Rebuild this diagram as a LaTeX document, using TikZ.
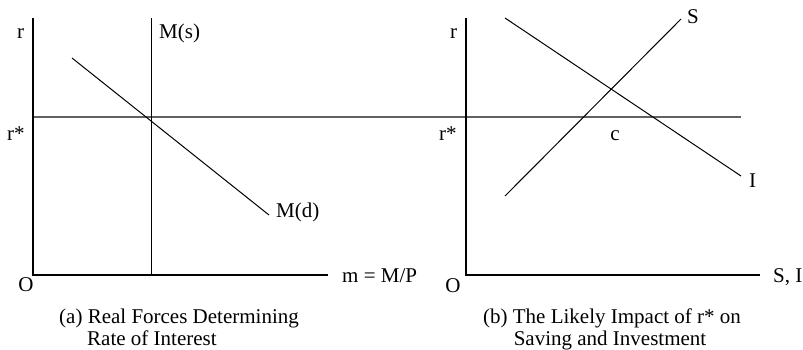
\documentclass[tikz,border=0pt]{standalone}
\usepackage{fontspec}
\setmainfont{Liberation Serif}
\begin{document}
\begin{tikzpicture}[x=1pt,y=-1pt,
  axis/.style={line width=1.1pt,black},
  curve/.style={line width=1pt,black},
  rline/.style={line width=1.6pt,color=black!62},
  lbl/.style={inner sep=0pt,font=\fontsize{21}{25}\selectfont,anchor=base west},
  lblc/.style={inner sep=0pt,font=\fontsize{21}{25}\selectfont,anchor=base}]
\useasboundingbox (0,0) rectangle (803,349);
% left panel coordinates
\coordinate (aTop) at (33,18);
\coordinate (aO) at (33,275);
\coordinate (aX) at (328,275);
\coordinate (msTop) at (151,18);
\coordinate (msBot) at (151,275);
\coordinate (mdA) at (72,58);
\coordinate (mdB) at (269,215);
% right panel coordinates
\coordinate (bTop) at (466,18);
\coordinate (bO) at (466,275);
\coordinate (bX) at (760,275);
\coordinate (sA) at (505,196);
\coordinate (sB) at (681,19);
\coordinate (iA) at (505,18);
\coordinate (iB) at (741,176);
% r* line
\coordinate (rsA) at (33,117);
\coordinate (rsB) at (741,117);
\draw[rline] (rsA) -- (rsB);
\draw[axis] (aTop) -- (aO) -- (aX);
\draw[curve] (msTop) -- (msBot);
\draw[curve] (mdA) -- (mdB);
\draw[axis] (bTop) -- (bO) -- (bX);
\draw[curve] (sA) -- (sB);
\draw[curve] (iA) -- (iB);
% labels left
\node[lbl] (ra) at (17,38) {r};
\node[lbl] (ms) at (159,38) {M(s)};
\node[lbl] (rsa) at (7,140) {r*};
\node[lbl] (md) at (276,217) {M(d)};
\node[lblc] (oa) at (26,291) {O};
\node[lbl] (mx) at (342,282) {m = M/P};
\node[lbl] (capa1) at (59,323) {(a) Real Forces Determining};
\node[lbl] (capa2) at (87,345) {Rate of Interest};
% labels right
\node[lbl] (sl) at (687,23) {S};
\node[lbl] (rb) at (450,38) {r};
\node[lbl] (rsb) at (439,140) {r*};
\node[lblc] (c) at (615,140) {c};
\node[lbl] (il) at (749,187) {I};
\node[lblc] (ob) at (453,292) {O};
\node[lbl] (sx) at (773,282) {S, I};
\node[lblc] (capb1) at (612,323) {(b) The Likely Impact of r* on};
\node[lblc] (capb2) at (610,345) {Saving and Investment};
\end{tikzpicture}
\end{document}
